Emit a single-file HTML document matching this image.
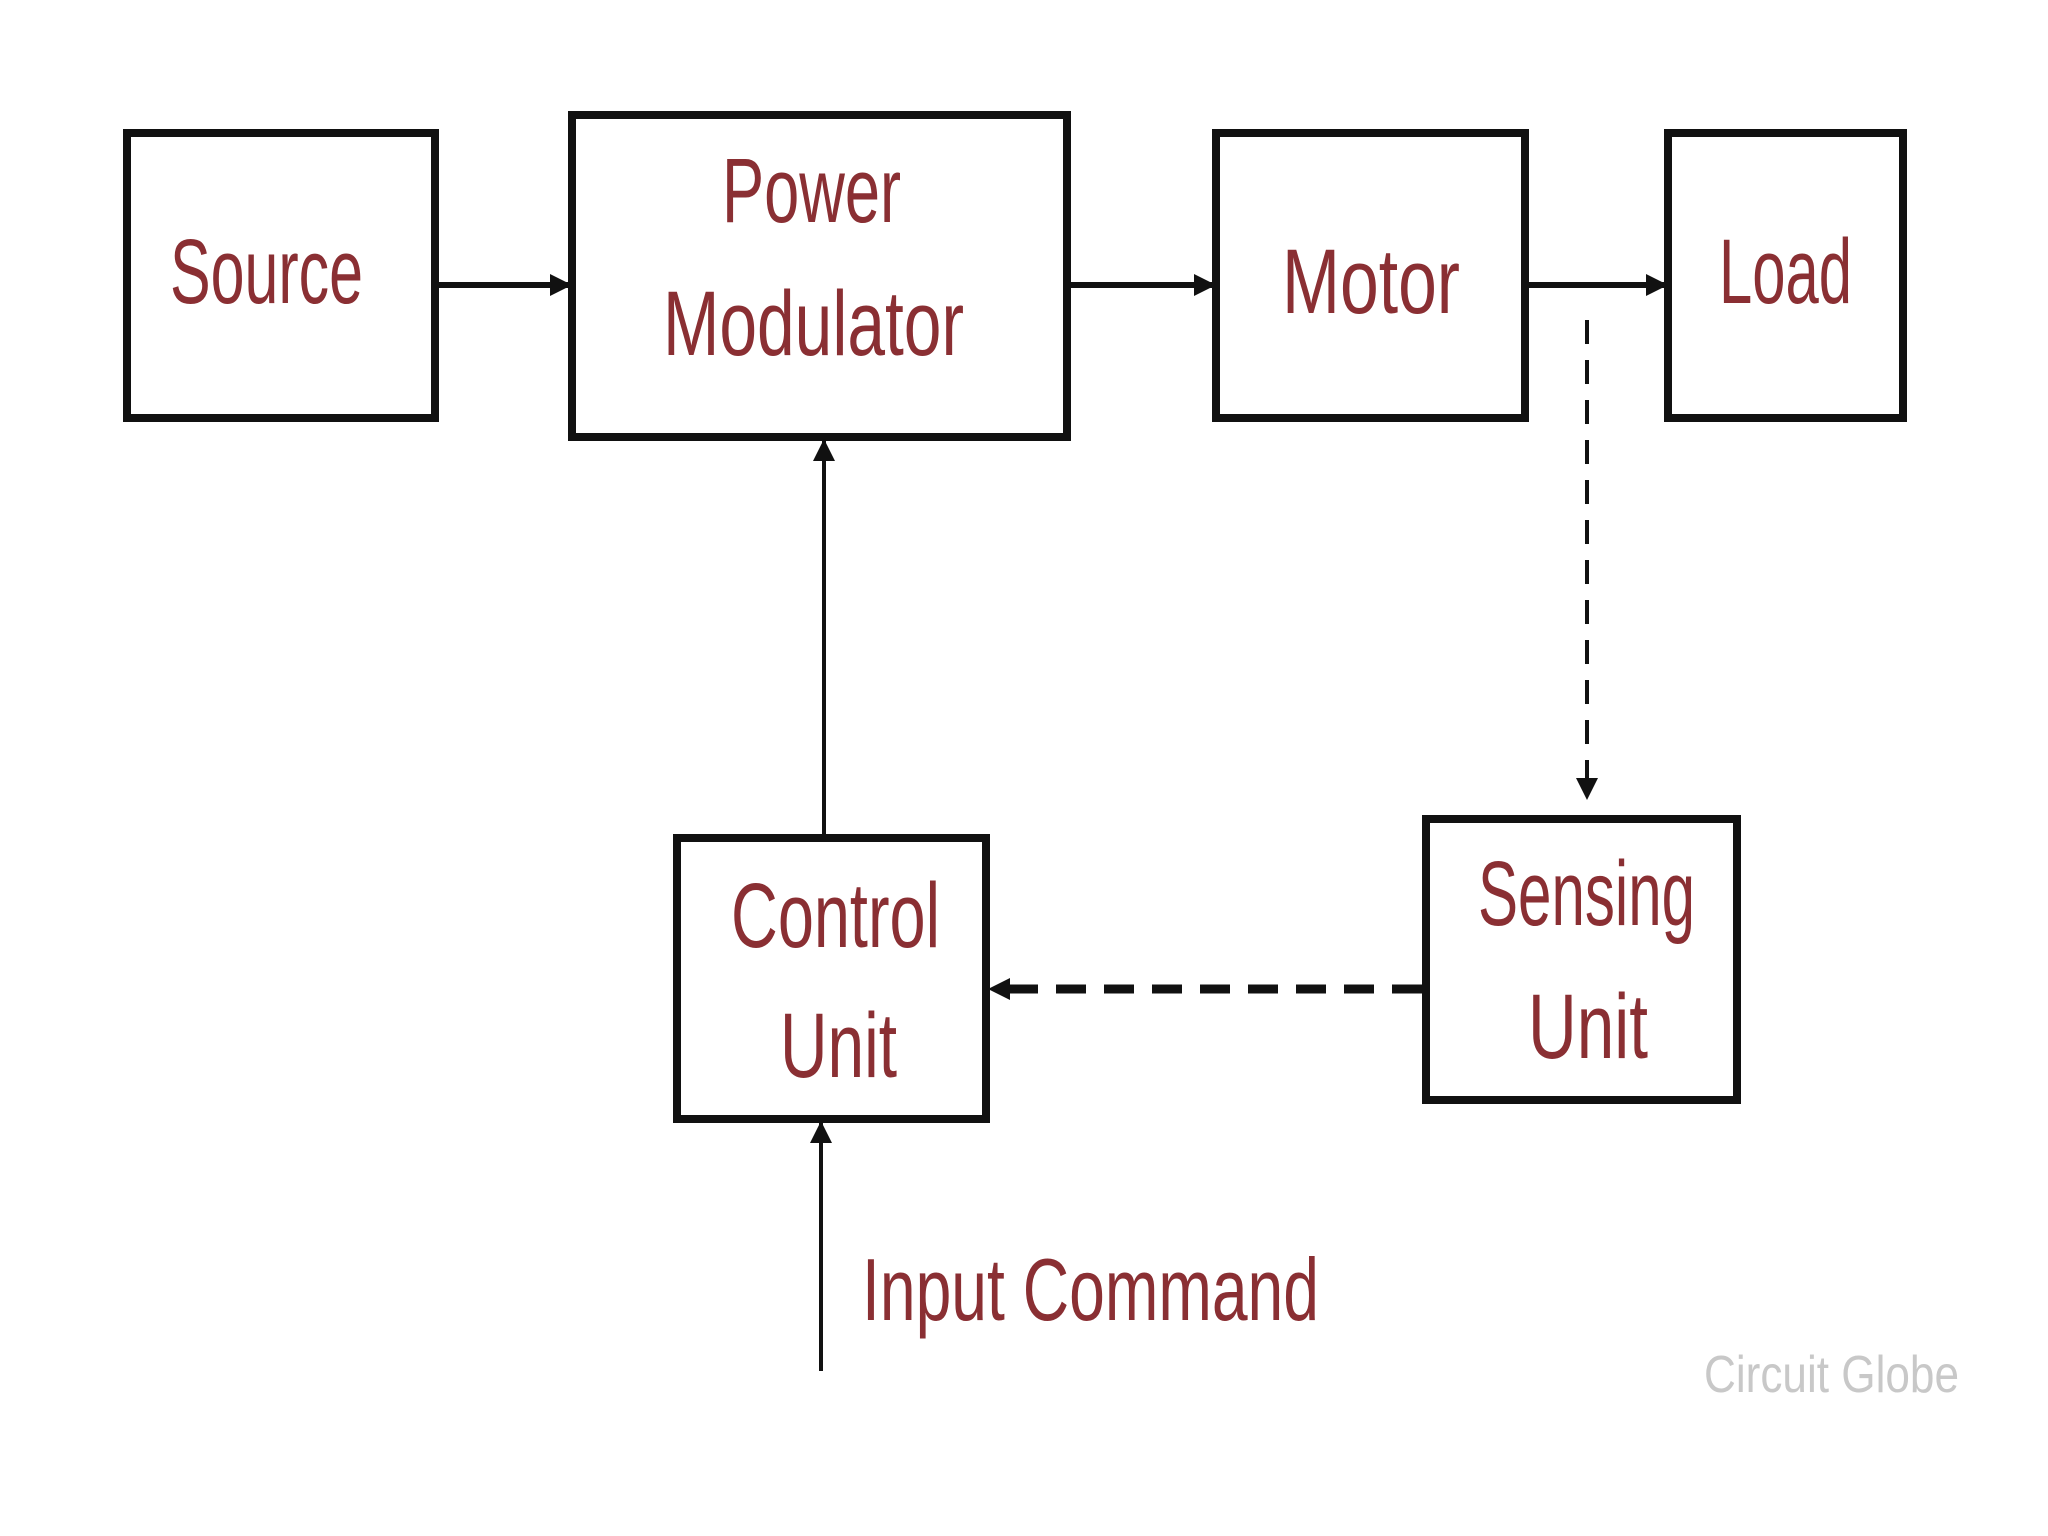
<!DOCTYPE html>
<html><head><meta charset="utf-8"><style>
html,body{margin:0;padding:0;background:#fff;}
svg{display:block}
text{font-family:"Liberation Sans Narrow","Liberation Sans",sans-serif;fill:#8a2f33;font-size:92px;}
</style></head><body>
<svg width="2048" height="1536" viewBox="0 0 2048 1536" xmlns="http://www.w3.org/2000/svg">
<defs>
<marker id="b" markerWidth="22" markerHeight="22" refX="20" refY="11" orient="auto" markerUnits="userSpaceOnUse" viewBox="0 0 22 22">
<path d="M0,0 L22,11 L0,22 z" fill="#111"/></marker>
</defs>
<rect width="2048" height="1536" fill="#fff"/>
<g fill="#fff" stroke="#111" stroke-width="8">
<rect x="127" y="133" width="308" height="285"/>
<rect x="572" y="115" width="495" height="322"/>
<rect x="1216" y="133" width="309" height="285"/>
<rect x="1668" y="133" width="235" height="285"/>
<rect x="677" y="838" width="309" height="281"/>
<rect x="1426" y="819" width="311" height="281"/>
</g>
<g stroke="#111" stroke-width="6" fill="none">
<line x1="439" y1="285" x2="570" y2="285" marker-end="url(#b)"/>
<line x1="1071" y1="285" x2="1214" y2="285" marker-end="url(#b)"/>
<line x1="1529" y1="285" x2="1666" y2="285" marker-end="url(#b)"/>
<line x1="824" y1="834" x2="824" y2="441" stroke-width="4" marker-end="url(#b)"/>
<line x1="821" y1="1371" x2="821" y2="1123" stroke-width="4" marker-end="url(#b)"/>
<line x1="1587" y1="320" x2="1587" y2="798" stroke-width="4" stroke-dasharray="24,16" marker-end="url(#b)"/>
<line x1="1422" y1="989" x2="990" y2="989" stroke-width="9" stroke-dasharray="30,18" marker-end="url(#b)"/>
</g>
<text x="170" y="303" textLength="193" lengthAdjust="spacingAndGlyphs">Source</text>
<text x="722" y="222" textLength="179" lengthAdjust="spacingAndGlyphs">Power</text>
<text x="663" y="355" textLength="301" lengthAdjust="spacingAndGlyphs">Modulator</text>
<text x="1282" y="313" textLength="178" lengthAdjust="spacingAndGlyphs">Motor</text>
<text x="1719" y="303" textLength="133" lengthAdjust="spacingAndGlyphs">Load</text>
<text x="731" y="947" textLength="209" lengthAdjust="spacingAndGlyphs">Control</text>
<text x="780" y="1077" textLength="117" lengthAdjust="spacingAndGlyphs">Unit</text>
<text x="1478" y="925" textLength="217" lengthAdjust="spacingAndGlyphs">Sensing</text>
<text x="1528" y="1058" textLength="120" lengthAdjust="spacingAndGlyphs">Unit</text>
<text x="862" y="1320" textLength="457" lengthAdjust="spacingAndGlyphs" style="font-size:88px">Input Command</text>
<text x="1704" y="1392" textLength="255" lengthAdjust="spacingAndGlyphs" style="font-size:52px;fill:#c8c8c8">Circuit Globe</text>
</svg>
</body></html>
